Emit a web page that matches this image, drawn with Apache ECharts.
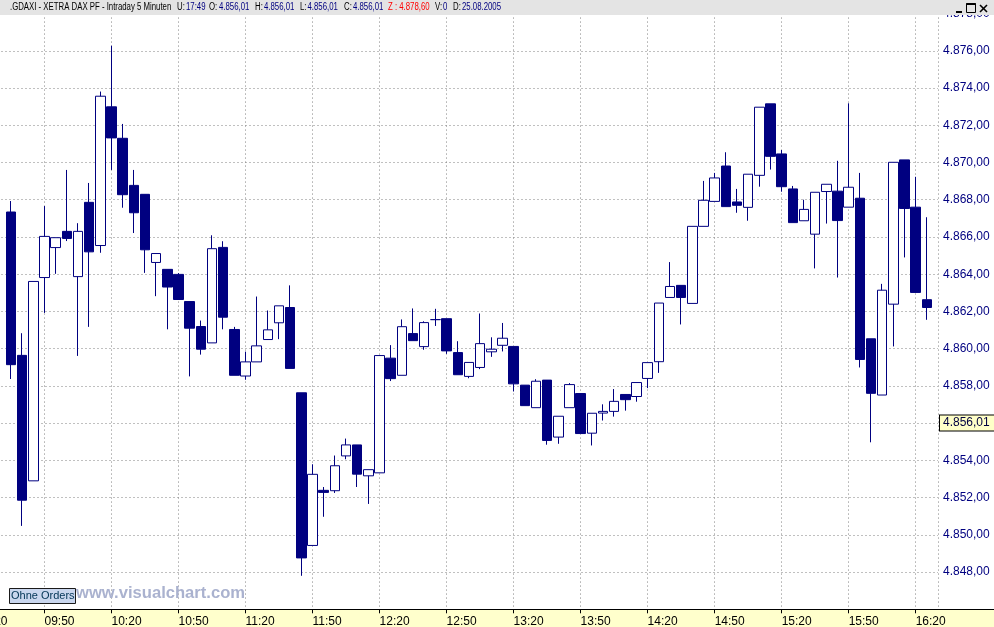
<!DOCTYPE html>
<html>
<head>
<meta charset="utf-8">
<title>.GDAXI - XETRA DAX PF - Intraday 5 Minuten</title>
<script src="https://cdn.jsdelivr.net/npm/echarts@6/dist/echarts.min.js"></script>
<style>
  html, body { margin: 0; padding: 0; background: #fff; }
  #chart { width: 994px; height: 627px; }
</style>
</head>
<body>
<div id="chart"></div>
<script>
// 5-Minuten-Kerzen, 25.08.2005
var times = [
  '09:35', '09:40', '09:45', '09:50', '09:55',
  '10:00', '10:05', '10:10', '10:15', '10:20', '10:25', '10:30', '10:35', '10:40', '10:45', '10:50', '10:55',
  '11:00', '11:05', '11:10', '11:15', '11:20', '11:25', '11:30', '11:35', '11:40', '11:45', '11:50', '11:55',
  '12:00', '12:05', '12:10', '12:15', '12:20', '12:25', '12:30', '12:35', '12:40', '12:45', '12:50', '12:55',
  '13:00', '13:05', '13:10', '13:15', '13:20', '13:25', '13:30', '13:35', '13:40', '13:45', '13:50', '13:55',
  '14:00', '14:05', '14:10', '14:15', '14:20', '14:25', '14:30', '14:35', '14:40', '14:45', '14:50', '14:55',
  '15:00', '15:05', '15:10', '15:15', '15:20', '15:25', '15:30', '15:35', '15:40', '15:45', '15:50', '15:55',
  '16:00', '16:05', '16:10', '16:15', '16:20', '16:25'
];
var opens = [
  4867.34, 4859.64, 4852.90, 4863.82, 4865.43,
  4866.30, 4863.87, 4867.86, 4865.54, 4872.99, 4871.30, 4868.77, 4868.29, 4864.63, 4864.26, 4863.99, 4862.53,
  4861.19, 4860.31, 4865.44, 4861.03, 4858.53, 4859.29, 4860.49, 4861.39, 4862.21, 4857.63, 4849.43, 4852.39,
  4852.37, 4854.24, 4854.83, 4853.17, 4853.33, 4859.49, 4858.57, 4860.81, 4860.11, 4861.56, 4861.61, 4859.79,
  4858.51, 4858.99, 4859.83, 4860.18, 4860.12, 4858.04, 4856.83, 4858.31, 4855.25, 4856.83, 4857.59, 4855.46,
  4856.54, 4856.63, 4857.54, 4857.43, 4858.40, 4859.30, 4862.75, 4863.40, 4862.43, 4866.57, 4867.91, 4869.81,
  4867.88, 4867.59, 4869.31, 4873.15, 4870.46, 4868.58, 4866.87, 4866.15, 4868.44, 4868.46, 4867.60, 4868.08,
  4860.53, 4857.51, 4862.39, 4870.14, 4867.60, 4862.63
];
var closes = [
  4859.14, 4851.86, 4863.61, 4866.03, 4865.96,
  4865.92, 4866.30, 4865.20, 4873.56, 4871.32, 4868.27, 4867.30, 4865.31, 4865.11, 4863.31, 4862.64, 4861.10,
  4859.97, 4865.37, 4861.69, 4858.57, 4859.29, 4860.15, 4861.01, 4862.30, 4858.94, 4848.76, 4853.25, 4852.28,
  4853.71, 4854.83, 4853.26, 4853.50, 4859.63, 4858.39, 4861.18, 4860.43, 4861.40, 4861.56, 4859.88, 4858.60,
  4859.26, 4860.27, 4859.97, 4860.56, 4858.11, 4856.94, 4858.25, 4855.07, 4856.37, 4858.07, 4855.44, 4856.53,
  4856.63, 4857.17, 4857.26, 4858.18, 4859.25, 4862.45, 4863.34, 4862.75, 4866.57, 4867.97, 4869.17, 4867.63,
  4867.70, 4869.37, 4872.97, 4870.33, 4868.70, 4866.77, 4867.48, 4868.40, 4868.83, 4866.88, 4868.67, 4859.42,
  4857.60, 4863.14, 4870.01, 4867.53, 4863.02, 4862.21
];
var lows = [
  4858.37, 4850.48, 4852.90, 4861.92, 4864.02,
  4865.78, 4859.61, 4861.17, 4865.15, 4869.60, 4867.57, 4866.21, 4864.07, 4862.82, 4861.04, 4862.64, 4858.51,
  4859.68, 4860.31, 4861.04, 4858.57, 4858.33, 4859.29, 4860.49, 4860.51, 4858.94, 4847.80, 4849.43, 4850.97,
  4852.25, 4854.06, 4852.57, 4851.66, 4853.33, 4858.26, 4858.57, 4860.43, 4859.94, 4861.22, 4859.72, 4858.60,
  4858.41, 4858.90, 4859.56, 4859.85, 4857.70, 4856.94, 4856.83, 4854.84, 4854.89, 4856.83, 4855.44, 4854.80,
  4856.14, 4856.35, 4856.67, 4857.15, 4857.88, 4858.70, 4862.75, 4861.30, 4862.43, 4866.57, 4867.91, 4867.63,
  4867.30, 4866.87, 4868.70, 4869.62, 4868.43, 4866.77, 4866.87, 4864.31, 4866.72, 4863.82, 4867.60, 4858.99,
  4854.97, 4857.51, 4860.12, 4864.90, 4863.02, 4861.55
];
var highs = [
  4867.93, 4860.83, 4863.61, 4867.66, 4865.96,
  4869.60, 4866.74, 4868.90, 4873.81, 4876.27, 4872.07, 4869.60, 4868.29, 4865.11, 4864.26, 4864.06, 4862.53,
  4861.51, 4866.09, 4865.77, 4861.17, 4859.84, 4862.80, 4862.05, 4862.30, 4863.40, 4857.63, 4853.79, 4852.57,
  4854.26, 4855.17, 4854.83, 4853.50, 4859.63, 4860.19, 4861.57, 4862.16, 4861.47, 4862.14, 4861.61, 4860.40,
  4859.26, 4861.89, 4860.61, 4861.38, 4860.12, 4858.04, 4858.36, 4858.31, 4856.37, 4858.15, 4857.59, 4856.53,
  4857.01, 4857.83, 4857.54, 4858.18, 4859.25, 4862.45, 4864.65, 4863.40, 4866.57, 4869.01, 4869.44, 4870.55,
  4868.58, 4869.37, 4872.97, 4873.15, 4870.67, 4868.74, 4868.00, 4868.40, 4868.83, 4870.09, 4873.18, 4869.44,
  4860.53, 4863.48, 4870.01, 4870.14, 4869.23, 4867.06
];
var lastPrice = 4856.01;

// Kopfzeile: [Text, Farbe, x]
var headerParts = [
  ['.GDAXI - XETRA DAX PF - Intraday 5 Minuten', '#000000', 10],
  ['U:', '#000000', 177], ['17:49', '#000080', 186],
  ['O:', '#000000', 209], ['4.856,01', '#000080', 219],
  ['H:', '#000000', 255], ['4.856,01', '#000080', 264],
  ['L:', '#000000', 300], ['4.856,01', '#000080', 307.5],
  ['C:', '#000000', 344], ['4.856,01', '#000080', 353],
  ['Z : 4.878,60', '#ff0000', 388],
  ['V:', '#000000', 435], ['0', '#000080', 443],
  ['D:', '#000000', 453], ['25.08.2005', '#000080', 462]
];

var NAVY = '#000080';
var FONT = "'Liberation Sans', Arial, sans-serif";
var DAY_START = 9 * 60 + 20; // Achse beginnt bei 09:20

function toMin(t) {
  var p = t.split(':');
  return (+p[0]) * 60 + (+p[1]) - DAY_START;
}
function fmtTime(v) {
  var m = DAY_START + v;
  var h = Math.floor(m / 60), mm = m % 60;
  return (h < 10 ? '0' : '') + h + ':' + (mm < 10 ? '0' : '') + mm;
}
function fmtPrice(v) {
  var s = v.toFixed(2).split('.');
  return s[0].replace(/\B(?=(\d{3})+(?!\d))/g, '.') + ',' + s[1];
}

var candles = times.map(function (t, i) {
  return [toMin(t), opens[i], closes[i], lows[i], highs[i]];
});

var graphics = [
  // gelbe Zeitleiste unten
  { type: 'rect', z: -10, shape: { x: 0, y: 609.5, width: 994, height: 18 }, style: { fill: '#ffffcc' } },
  { type: 'line', z: -9, shape: { x1: 0, y1: 609.5, x2: 994, y2: 609.5 }, style: { stroke: '#000', lineWidth: 1 } },
  // graue Titelleiste
  { type: 'rect', z: 100, shape: { x: 0, y: 0, width: 994, height: 15 }, style: { fill: '#e4e4e4' } },
  // Fensterknoepfe
  { type: 'line', z: 101, shape: { x1: 956, y1: 12, x2: 962, y2: 12 }, style: { stroke: '#000', lineWidth: 2 } },
  { type: 'rect', z: 101, shape: { x: 966.5, y: 3.5, width: 9, height: 9 }, style: { fill: 'none', stroke: '#000', lineWidth: 1 } },
  { type: 'line', z: 101, shape: { x1: 966.5, y1: 4, x2: 975.5, y2: 4 }, style: { stroke: '#000', lineWidth: 2 } },
  { type: 'line', z: 101, shape: { x1: 980, y1: 5, x2: 987, y2: 12 }, style: { stroke: '#000', lineWidth: 1.6 } },
  { type: 'line', z: 101, shape: { x1: 987, y1: 5, x2: 980, y2: 12 }, style: { stroke: '#000', lineWidth: 1.6 } },
  // "Ohne Orders" Knopf und Wasserzeichen
  { type: 'rect', z: 50, shape: { x: 9.5, y: 588.5, width: 66, height: 15 }, style: { fill: '#c9d6ee', stroke: '#1a1a1a', lineWidth: 1 } },
  { type: 'text', z: 51, x: 11, y: 596, style: { text: 'Ohne Orders', fill: '#003355', font: '11px ' + FONT, textVerticalAlign: 'middle' } },
  { type: 'text', z: 50, x: 76, y: 593, style: { text: 'www.visualchart.com', fill: '#aab2cf', font: 'bold 16.6px ' + FONT, textVerticalAlign: 'middle' } }
];
headerParts.forEach(function (p) {
  graphics.push({
    type: 'text', z: 101, x: p[2], y: 7.5, scaleX: 0.78,
    style: { text: p[0], fill: p[1], font: '10px ' + FONT, textVerticalAlign: 'middle' }
  });
});

var myChart = echarts.init(document.getElementById('chart'));
myChart.setOption({
  animation: false,
  backgroundColor: '#ffffff',
  grid: {
    left: -22.5, right: 56, top: 13.55, bottom: 17.7,
    containLabel: false, outerBoundsMode: 'none'
  },
  xAxis: {
    type: 'value',
    min: 0,
    max: 430,
    interval: 30,
    axisLine: { show: true, lineStyle: { color: '#000', width: 1 } },
    axisTick: { show: true, length: 4, lineStyle: { color: '#000' } },
    axisLabel: {
      formatter: fmtTime, align: 'left', margin: 6,
      color: '#000', fontSize: 12, fontFamily: FONT,
      showMinLabel: true, showMaxLabel: false, hideOverlap: false
    },
    splitLine: { show: true, lineStyle: { color: '#808080', type: [1, 3] } }
  },
  yAxis: {
    type: 'value',
    position: 'right',
    min: 4846,
    max: 4878,
    interval: 2,
    axisLine: { show: true, lineStyle: { color: '#000', width: 1 } },
    axisTick: { show: true, length: 4, lineStyle: { color: '#000' } },
    axisLabel: {
      formatter: fmtPrice, margin: 5,
      color: NAVY, fontSize: 12, fontFamily: FONT,
      showMinLabel: false, showMaxLabel: true
    },
    splitLine: { show: true, lineStyle: { color: '#808080', type: [1, 3] } }
  },
  series: [{
    type: 'candlestick',
    data: candles,
    barWidth: 10,
    itemStyle: {
      color: '#ffffff',
      color0: NAVY,
      borderColor: NAVY,
      borderColor0: NAVY,
      borderColorDoji: NAVY,
      borderWidth: 1
    },
    markLine: {
      silent: true,
      symbol: ['none', 'none'],
      lineStyle: { color: 'rgba(0,0,0,0)', width: 1, type: 'solid' },
      label: {
        position: 'end', distance: 2,
        formatter: fmtPrice(lastPrice),
        backgroundColor: '#ffffc8', borderColor: '#000', borderWidth: 1,
        padding: [2, 6, 1, 3], color: '#000040', fontSize: 12, fontFamily: FONT
      },
      data: [{ yAxis: lastPrice }]
    }
  }],
  graphic: { elements: graphics }
});
</script>
</body>
</html>
